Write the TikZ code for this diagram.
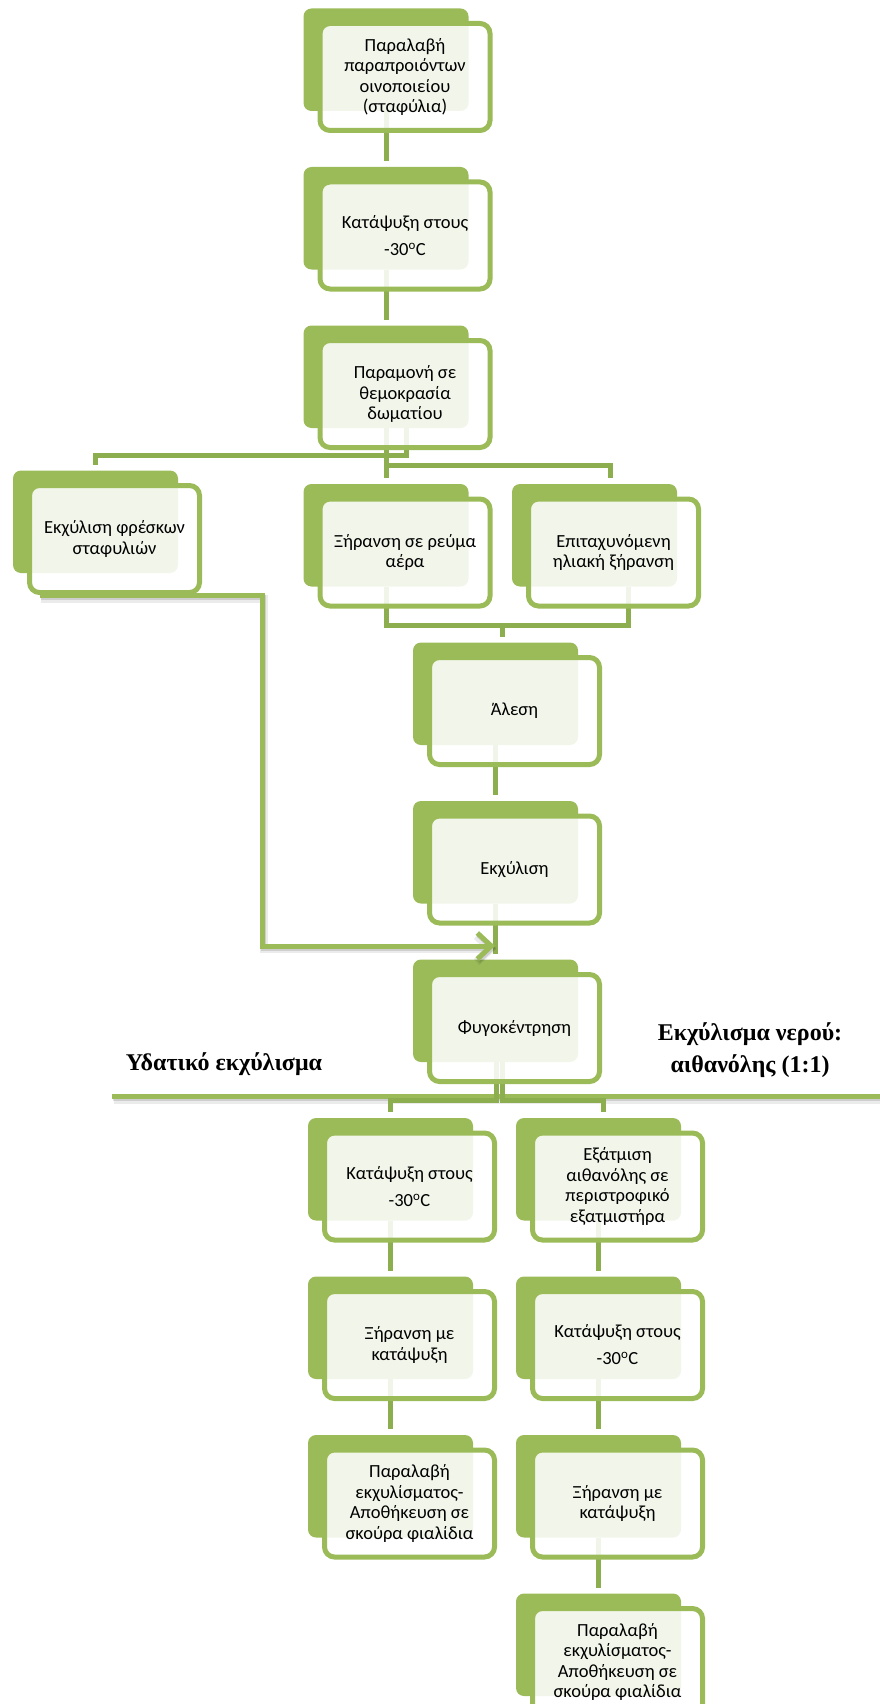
\documentclass[tikz,border=0pt]{standalone}
\usepackage{fontspec}
\setmainfont{Carlito}
\newfontfamily\headserif{Liberation Serif}
\usetikzlibrary{positioning, arrows.meta, backgrounds}

\definecolor{leafgreen}{HTML}{9BBB59}
\definecolor{stemgreen}{HTML}{8DAE4E}

\begin{document}
\begin{tikzpicture}[x=1pt, y=-1pt,
  stepbox/.style={rectangle, rounded corners=10pt, draw=leafgreen, line width=5pt,
    fill=white, fill opacity=0.88, text opacity=1, minimum width=170pt,
    minimum height=107pt, inner sep=0pt, outer sep=0pt, align=center,
    font=\fontsize{18.5}{20.5}\selectfont},
  leaf/.style={fill=leafgreen, rounded corners=8pt},
  link/.style={draw=stemgreen, line width=5pt},
  shadowed/.style={
    preaction={draw=black, draw opacity=0.08, line width=8pt,
      transform canvas={shift={(1.5pt,-3pt)}}},
    preaction={draw=black, draw opacity=0.12, line width=5pt,
      transform canvas={shift={(1pt,-2pt)}}}},
  flow/.style={draw=leafgreen, line width=5pt, shadowed,
    -{Straight Barb[length=14pt, width=26pt]}},
  sepline/.style={draw=leafgreen, line width=5pt, shadowed},
  heading/.style={font=\headserif\bfseries\fontsize{24}{32}\selectfont, align=center},
  node distance=51.5pt
]
\useasboundingbox (0,0) rectangle (879,1704);

% main line
\node[stepbox] (recv) at (405,77) {Παραλαβή\\παραπροιόντων\\οινοποιείου\\(σταφύλια)};
\node[stepbox, below=of recv] (frz) {Κατάψυξη στους\\[6.5pt]-30\textsuperscript{o}C};
\node[stepbox, below=of frz] (room) {Παραμονή σε\\θεμοκρασία\\δωματίου};
\node[stepbox, below=of room] (dry) {Ξήρανση σε ρεύμα\\αέρα};
\node[stepbox, right=38.5pt of dry] (solar) {Επιταχυνόμενη\\ηλιακή ξήρανση};
\node[stepbox] (fresh) at (114.5,539) {Εκχύλιση φρέσκων\\σταφυλιών};
\node[stepbox, below=of dry, xshift=109.5pt] (mill) {Άλεση};
\node[stepbox, below=of mill] (extr) {Εκχύλιση};
\node[stepbox, below=of extr] (centri) {Φυγοκέντρηση};

% aqueous extract
\node[stepbox, below=of centri, xshift=-105pt] (wfrz) {Κατάψυξη στους\\[6.5pt]-30\textsuperscript{o}C};
\node[stepbox, below=of wfrz] (wdry) {Ξήρανση με\\κατάψυξη};
\node[stepbox, below=of wdry] (wstore) {Παραλαβή\\εκχυλίσματος-\\Αποθήκευση σε\\σκούρα φιαλίδια};

% water:ethanol extract
\node[stepbox, below=of centri, xshift=103pt] (evap) {Εξάτμιση\\αιθανόλης σε\\περιστροφικό\\εξατμιστήρα};
\node[stepbox, below=of evap] (efrz) {Κατάψυξη στους\\[6.5pt]-30\textsuperscript{o}C};
\node[stepbox, below=of efrz] (edry) {Ξήρανση με\\κατάψυξη};
\node[stepbox, below=of edry] (estore) {Παραλαβή\\εκχυλίσματος-\\Αποθήκευση σε\\σκούρα φιαλίδια};

\node[heading, anchor=base] (aqhead) at (224,1070) {Υδατικό εκχύλισμα};
\node[heading] (ethead) at (750,1050) {Εκχύλισμα νερού:\\αιθανόλης (1:1)};

\begin{scope}[on background layer]
  \foreach \s in {recv,frz,room,fresh,dry,solar,mill,extr,centri,wfrz,wdry,wstore,evap,efrz,edry,estore}
    \fill[leaf] ([shift={(-16.5,-15)}]\s.north west) rectangle ([shift={(-21.5,-19.5)}]\s.south east);

  \coordinate (ruleL) at (112,1096.5);
  \coordinate (ruleR) at (885,1096.5);
  \draw[sepline] (ruleL) -- (ruleR);

  \foreach \a/\b in {recv/frz, frz/room, room/dry, mill/extr, extr/centri,
                     wfrz/wdry, wdry/wstore, evap/efrz, efrz/edry, edry/estore}
    \draw[link] ([shift={(-19,-19.5)}]\a.south) -- ([shift={(-19,-21)}]\b.north);

  \draw[link] ([shift={(1,-19.5)}]room.south) -- ++(0,27) -| ([shift={(-19,-21)}]fresh.north);
  \draw[link] ([shift={(-19,-19.5)}]room.south) -- ++(0,37) -| ([shift={(-3.5,-21)}]solar.north);
  \draw[link] ([shift={(-19,-19.5)}]dry.south) -- ++(0,38.5) coordinate (dmerge)
    -| ([shift={(14.5,-19.5)}]solar.south);
  \draw[link] ([shift={(-12.5,-21)}]mill.north) |- (dmerge);
  \draw[link] ([shift={(-18,-19.5)}]centri.south) -- ++(0,38.5) -| ([shift={(-19,-21)}]wfrz.north);
  \draw[link] ([shift={(-12.5,-19.5)}]centri.south) -- ++(0,38.5) -| ([shift={(-14,-21)}]evap.north);

  \draw[flow] ([shift={(10,3)}]fresh.south west) -- ++(223,0)
    |- ([shift={(-19.5,-28.5)}]centri.north);
\end{scope}
\end{tikzpicture}
\end{document}
